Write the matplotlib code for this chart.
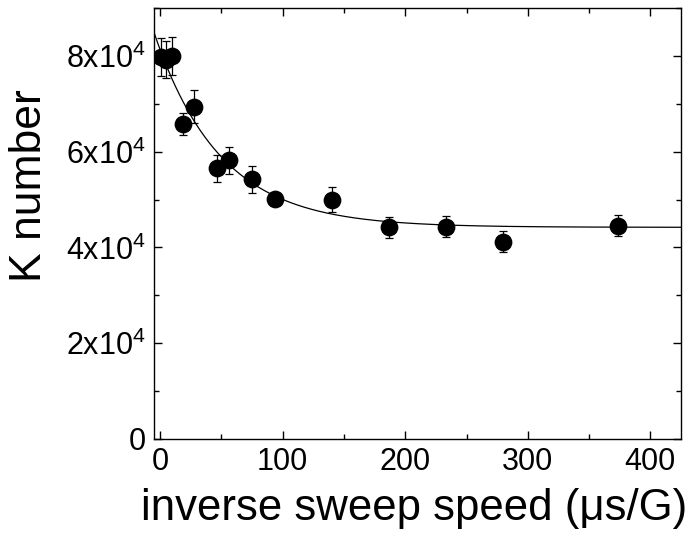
import numpy as np
import matplotlib
matplotlib.use("Agg")
import matplotlib.pyplot as plt
from matplotlib.ticker import MultipleLocator, FixedLocator, FixedFormatter

plt.rcParams['font.family'] = ['Liberation Sans', 'DejaVu Sans']
plt.rcParams['mathtext.fontset'] = 'custom'
plt.rcParams['mathtext.rm'] = 'Liberation Sans'
plt.rcParams['mathtext.it'] = 'Liberation Sans'
plt.rcParams['mathtext.bf'] = 'Liberation Sans'
plt.rcParams['mathtext.default'] = 'regular'

# data (inverse sweep speed in us/G, K number)
x_vals = [0.93, 4.67, 9.33, 18.67, 28.0, 46.67, 56.0, 74.67, 93.33, 140.0, 186.67, 233.33, 280.0, 373.33]
k_vals = [79800, 79200, 80000, 65800, 69400, 56500, 58200, 54200, 50200, 50000, 44200, 44300, 41200, 44500]
k_err = [3900, 3900, 3900, 2250, 3500, 2800, 2850, 2800, 1000, 2550, 2200, 2200, 2150, 2200]

# exponential fit parameters: y = y0 + A*exp(-x/tau)
fit_y0 = 44200
fit_A = 37100
fit_tau = 54.0

y_ticks = [0, 20000, 40000, 60000, 80000]
y_ticklabels = ['0', '2x10$^{4}$', '4x10$^{4}$', '6x10$^{4}$', '8x10$^{4}$']
x_ticks = [0, 100, 200, 300, 400]

fig = plt.figure(figsize=(6.91, 5.39), dpi=100)
ax = fig.add_axes([154/691, 1-439/539, (681-154)/691, (439-8)/539])

xf = np.linspace(-5, 425, 500)
ax.plot(xf, fit_y0 + fit_A*np.exp(-xf/fit_tau), color='black', lw=0.9, zorder=2)

ax.errorbar(x_vals, k_vals, yerr=k_err, fmt='o', color='black', ms=11.8,
            ecolor='black', elinewidth=0.9, capsize=3.2, capthick=0.9, zorder=3)

ax.set_xlim(-5, 425)
ax.set_ylim(0, 90000)
ax.xaxis.set_major_locator(FixedLocator(x_ticks))
ax.xaxis.set_minor_locator(MultipleLocator(50))
ax.yaxis.set_major_locator(FixedLocator(y_ticks))
ax.yaxis.set_major_formatter(FixedFormatter(y_ticklabels))
ax.yaxis.set_minor_locator(MultipleLocator(10000))

ax.tick_params(which='both', direction='in', top=True, right=True, width=1.0)
ax.tick_params(which='major', length=6, labelsize=22, pad=6)
ax.tick_params(which='minor', length=3.5)
for s in ax.spines.values():
    s.set_linewidth(1.0)

fig.text(30/691, 1-186/539, 'K number', rotation=90, ha='center', va='center', fontsize=32)
fig.text(414.5/691, 1-520/539, 'inverse sweep speed (\u03bcs/G)', ha='center', va='baseline', fontsize=31.5)

fig.savefig('out.png', dpi=100)
